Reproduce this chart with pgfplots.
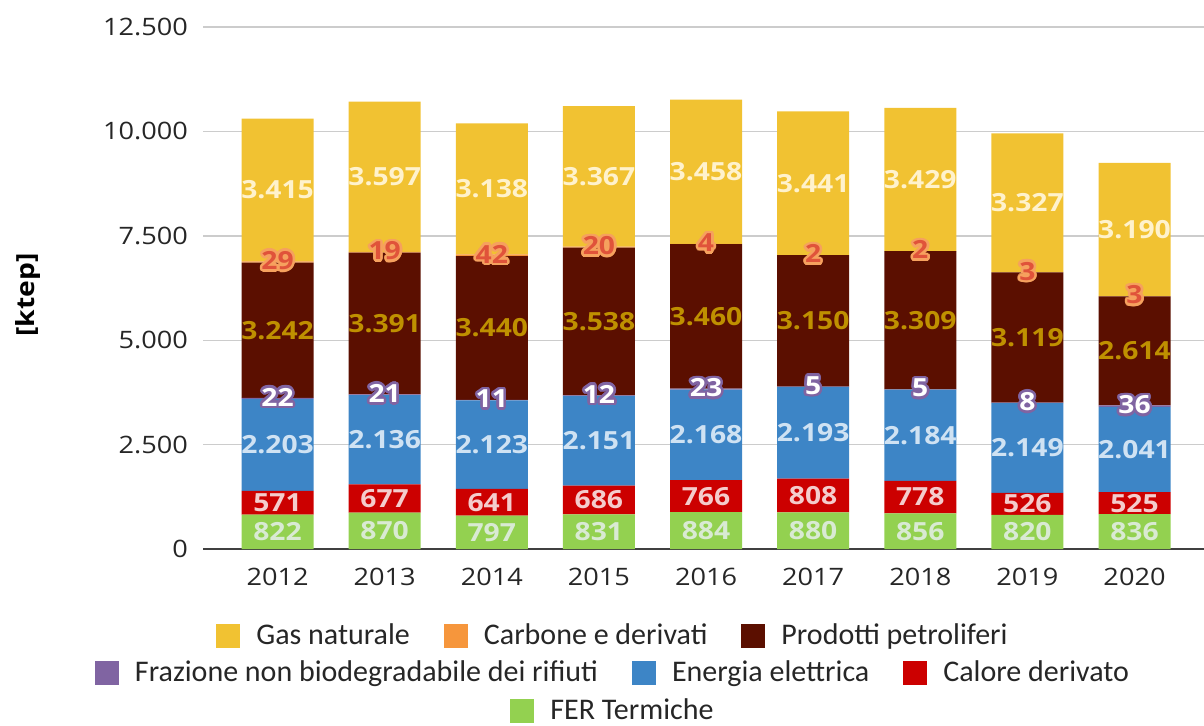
\documentclass[border=0pt]{standalone}
\usepackage{fontspec}
\setmainfont{Open Sans}[FakeStretch=1.13]
\newfontfamily\legfont{Carlito}
\usepackage{pgfplots}
\usepackage{pgfplotstable}
\pgfplotsset{compat=1.18}
\usepackage{contour}
\contourlength{1.3pt}

\definecolor{cgas}{HTML}{F1C232}
\definecolor{ccarb}{HTML}{F6963C}
\definecolor{cpetr}{HTML}{5B0F00}
\definecolor{cfraz}{HTML}{8064A2}
\definecolor{cener}{HTML}{3D85C6}
\definecolor{ccal}{HTML}{CC0000}
\definecolor{cfer}{HTML}{93D150}
\definecolor{tgas}{HTML}{FFF2CC}
\definecolor{tcarb}{HTML}{E0533A}
\definecolor{hcarb}{HTML}{F6A15E}
\definecolor{tpetr}{HTML}{BF9000}
\definecolor{tener}{HTML}{CFE2F3}
\definecolor{tcal}{HTML}{F4CCCC}
\definecolor{tfer}{HTML}{D9EAD3}

% bottom to top: fer cal ener fraz petr carb gas
\pgfplotstableread{
x fer cal ener fraz petr carb gas
0 822 571 2203 22 3242 29 3415
1 870 677 2136 21 3391 19 3597
2 797 641 2123 11 3440 42 3138
3 831 686 2151 12 3538 20 3367
4 884 766 2168 23 3460 4 3458
5 880 808 2193 5 3150 2 3441
6 856 778 2184 5 3309 2 3429
7 820 526 2149 8 3119 3 3327
8 836 525 2041 36 2614 3 3190
}\energia

\newcommand\legsq[1]{\raisebox{-1.8pt}{\textcolor{#1}{\rule{12pt}{12pt}}}\hspace{8pt}}
\newcommand\leggap{\hspace{17pt}}

% stacked bars already put the labels in the middle of each segment
\pgfplotsset{
  lbl/.style={
    nodes near coords,
    point meta=rawy,
    every node near coord/.append style={anchor=center, text=#1,
      font=\bfseries\fontsize{12.5}{12.5}\selectfont},
  },
}

\begin{document}
\begin{tikzpicture}
\path[use as bounding box] (0,0) rectangle (602pt,362.5pt);
\begin{axis}[
  at={(101.5pt,88pt)}, anchor=south west,
  scale only axis, width=500.5pt, height=261pt,
  ybar stacked, bar width=36pt,
  xmin=-0.696, xmax=8.649, ymin=0, ymax=12500,
  xtick={0,...,8}, xticklabels={2012,2013,2014,2015,2016,2017,2018,2019,2020},
  ytick={0,2500,5000,7500,10000,12500},
  scaled y ticks=false,
  /pgf/number format/1000 sep={.},
  /pgf/number format/assume math mode=true,
  ticklabel style={font=\fontsize{12}{12}\selectfont, text=black!85},
  yticklabel style={xshift=-4pt},
  xticklabel style={yshift=-6pt},
  major tick length=0pt,
  axis line style={draw=none},
  ymajorgrids, grid style={color=black!20, line width=0.7pt},
  extra y ticks={0}, extra y tick labels={},
  extra y tick style={grid style={color=black!75, line width=0.8pt}},
]
\addplot[fill=cfer, draw=none, lbl=tfer] table[x=x, y=fer] {\energia};
\addplot[fill=ccal, draw=none, lbl=tcal] table[x=x, y=cal] {\energia};
\addplot[fill=cener, draw=none, lbl=tener] table[x=x, y=ener] {\energia};
\addplot[fill=cfraz, draw=none, lbl=white,
  nodes near coords={\contour{cfraz}{\pgfmathprintnumber{\pgfplotspointmeta}}}] table[x=x, y=fraz] {\energia};
\addplot[fill=cpetr, draw=none, lbl=tpetr] table[x=x, y=petr] {\energia};
\addplot[fill=ccarb, draw=none, lbl=tcarb,
  nodes near coords={\contour{hcarb}{\pgfmathprintnumber{\pgfplotspointmeta}}}] table[x=x, y=carb] {\energia};
\addplot[fill=cgas, draw=none, lbl=tgas] table[x=x, y=gas] {\energia};
\end{axis}

\node[rotate=90, font=\bfseries\fontsize{12.5}{12.5}\selectfont] at (14pt,215pt) {[ktep]};

\begin{scope}[every node/.style={inner sep=0pt, font=\legfont\fontsize{15}{15}\selectfont, text=black!85}]
\node at (306pt,44.5pt) {\legsq{cgas}Gas naturale\leggap\legsq{ccarb}Carbone e derivati\leggap\legsq{cpetr}Prodotti petroliferi};
\node at (306pt,25.5pt) {\legsq{cfraz}Frazione non biodegradabile dei rifiuti\leggap\legsq{cener}Energia elettrica\leggap\legsq{ccal}Calore derivato};
\node at (306pt,7pt) {\legsq{cfer}FER Termiche};
\end{scope}
\end{tikzpicture}
\end{document}
